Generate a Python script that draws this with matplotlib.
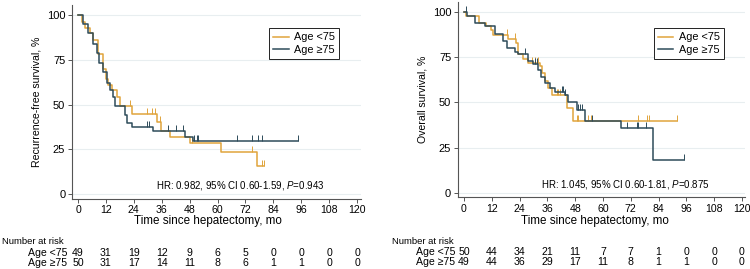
import matplotlib
matplotlib.use('Agg')
import matplotlib.pyplot as plt
import numpy as np

plt.rcParams['font.family'] = ['Liberation Sans', 'DejaVu Sans']
plt.rcParams['mathtext.fontset'] = 'custom'
plt.rcParams['mathtext.rm'] = 'Liberation Sans'
plt.rcParams['mathtext.it'] = 'Liberation Sans:italic'

ORANGE = '#E0A43C'
DARK = '#2D4B5A'

# recurrence-free survival, Age <75
rfs_young_t = [0, 1.6, 3.0, 5.2, 6.6, 8.7, 10.9, 12.0, 13.0, 14.5, 16.6, 18.1,
               23.1, 33.8, 35.6, 39.6, 48.2, 61.5, 76.8, 80.0]
rfs_young_s = [100, 96, 93, 90, 86, 78, 70, 64, 61, 58, 54, 49,
               44.5, 40, 35, 32, 28.3, 23.3, 15.8, 15.8]
rfs_young_cens = [22.5, 29.5, 31.7, 33.1, 35.3, 49.2, 74.7, 79.0, 80.0]
# recurrence-free survival, Age >=75
rfs_old_t = [0, 2.0, 4.4, 6.6, 8.0, 9.2, 10.9, 12.3, 13.8, 15.2, 15.9, 20.2,
             20.9, 23.1, 32.4, 46.0, 49.3, 94.8]
rfs_old_s = [100, 95, 90, 84, 78.6, 73, 68, 62, 58, 54, 49, 44,
             39.5, 37.3, 35, 32, 29.4, 29.4]
rfs_old_cens = [29.5, 30.5, 38.9, 42.2, 45.0, 50.0, 51.0, 51.8, 68.2, 75.0,
                77.6, 79.0, 94.8]

# overall survival, Age <75
os_young_t = [0, 0.7, 6.5, 9.5, 11.7, 12.7, 19.1, 22.4, 23.5, 25.6, 27.8,
              32.8, 33.5, 35.0, 36.4, 37.8, 44.3, 46.9, 91.8]
os_young_s = [100, 98, 94, 92, 90, 87.5, 85, 83, 77, 74, 72,
              70, 66, 62, 58, 54, 47, 40, 40]
os_young_cens = [18.5, 22.0, 29.2, 30.6, 32.1, 40.0, 40.7, 41.4, 48.6, 49.4,
                 53.7, 54.8, 75.3, 78.8, 79.9, 91.8]
# overall survival, Age >=75
os_old_t = [0, 1.2, 4.7, 9.1, 13.4, 17.0, 18.4, 22.0, 23.5, 27.8, 29.9, 32.1,
            33.1, 35.0, 37.1, 39.3, 43.6, 45.0, 48.6, 52.2, 67.8, 81.7, 95.1]
os_old_s = [100, 98, 94, 92, 88, 84, 80, 78, 77, 73, 71, 68,
            64, 61, 58, 56, 54, 50, 46, 40, 36, 18, 18]
os_old_cens = [1.0, 26.3, 30.6, 31.5, 42.2, 42.9, 43.6, 49.4, 50.1, 51.1,
               55.1, 70.2, 74.5, 75.3, 78.4, 95.1]

risk_times = [0, 12, 24, 36, 48, 60, 72, 84, 96, 108, 120]
rfs_risk_young = [49, 31, 19, 12, 9, 6, 5, 0, 0, 0, 0]
rfs_risk_old = [50, 31, 17, 14, 11, 8, 6, 1, 1, 0, 0]
os_risk_young = [50, 44, 34, 21, 11, 7, 7, 1, 0, 0, 0]
os_risk_old = [49, 44, 36, 29, 17, 11, 8, 1, 1, 0, 0]

group_labels = ['Age <75', 'Age \u226575']


def km_line(ax, t, s, cens, color, label):
    t = np.array(t)
    s = np.array(s)
    ax.step(t, s, where='post', color=color, lw=1.1, label=label)
    idx = np.searchsorted(t, cens, side='right') - 1
    ax.plot(cens, s[idx], ls='none', marker=2, ms=4, mew=0.7, color=color)


def panel(ax, curves, ylabel, hr, risk, leg_anchor, row_x, title_x, xlab_x):
    for t, s, cens, color, label in curves:
        km_line(ax, t, s, cens, color, label)
    ax.set_xlim(-2.5, 121.5)
    ax.set_ylim(-2.5, 105.5)
    ax.set_xticks(risk_times)
    ax.set_yticks([0, 25, 50, 75, 100])
    ax.yaxis.grid(True, color='#E8EEF0', lw=0.8)
    ax.set_axisbelow(True)
    for sp in ['top', 'right']:
        ax.spines[sp].set_visible(False)
    for sp in ['left', 'bottom']:
        ax.spines[sp].set_color('#555555')
        ax.spines[sp].set_linewidth(0.8)
    ax.tick_params(length=3, width=0.7, color='#555555', pad=2)
    ax.tick_params(axis='x', labelsize=7.6)
    ax.tick_params(axis='y', labelsize=8)
    ax.set_ylabel(ylabel, fontsize=7.6, labelpad=4)
    ax.set_xlabel('Time since hepatectomy, mo', fontsize=8.4)
    ax.xaxis.label.set_va('center')
    ax.xaxis.set_label_coords(xlab_x, -0.118)
    ax.text(69.7, 4.8, hr, fontsize=7, ha='center', va='center')
    leg = ax.legend(loc='upper left', bbox_to_anchor=leg_anchor,
                    borderaxespad=0, fontsize=7.8, fancybox=False,
                    framealpha=1, handlelength=1.4, borderpad=0.4,
                    labelspacing=0.25, handletextpad=0.5)
    leg.get_frame().set_edgecolor('#222222')
    leg.get_frame().set_linewidth(0.7)

    fig.text(title_x, 1 - 242 / 269, 'Number at risk', fontsize=6.8,
             ha='left', va='center')
    tr = ax.get_xaxis_transform()
    for k, row in enumerate(risk):
        y = -0.28 - 0.052 * k
        ax.text(row_x, y, group_labels[k], transform=tr, fontsize=7.6,
                ha='right', va='center')
        for x, n in zip(risk_times, row):
            ax.text(x, y, str(n), transform=tr, fontsize=7.6,
                    ha='center', va='center')


fig = plt.figure(figsize=(7.5, 2.69), dpi=100)
ax1 = fig.add_axes([0.0963, 0.262, 0.3844, 0.7186])
ax2 = fig.add_axes([0.6109, 0.2658, 0.383, 0.7268])

panel(ax1,
      [(rfs_young_t, rfs_young_s, rfs_young_cens, ORANGE, group_labels[0]),
       (rfs_old_t, rfs_old_s, rfs_old_cens, DARK, group_labels[1])],
      'Recurrence-free survival, %',
      r'HR: 0.982, 95% CI 0.60-1.59, $\mathit{P}$=0.943',
      [rfs_risk_young, rfs_risk_old], (0.683, 0.882), -4.7, 0.003, 0.47)
panel(ax2,
      [(os_young_t, os_young_s, os_young_cens, ORANGE, group_labels[0]),
       (os_old_t, os_old_s, os_old_cens, DARK, group_labels[1])],
      'Overall survival, %',
      r'HR: 1.045, 95% CI 0.60-1.81, $\mathit{P}$=0.875',
      [os_risk_young, os_risk_old], (0.681, 0.867), -3.8, 0.522, 0.476)

fig.savefig('out.png', dpi=100)
